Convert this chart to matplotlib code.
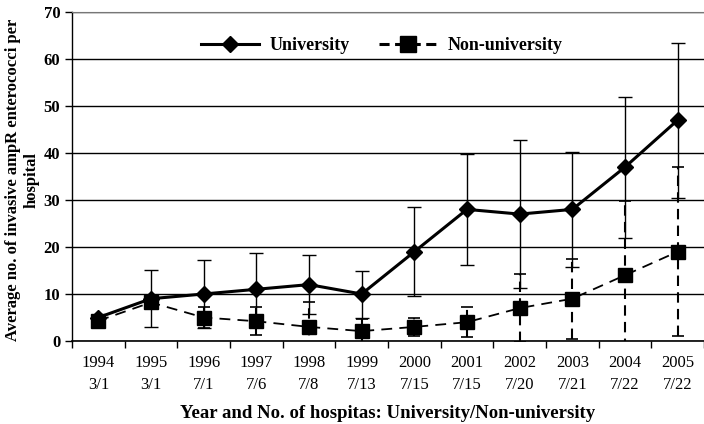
import matplotlib
matplotlib.use("Agg")
import matplotlib.pyplot as plt
from matplotlib.lines import Line2D
import numpy as np

years = ["1994", "1995", "1996", "1997", "1998", "1999", "2000", "2001", "2002", "2003", "2004", "2005"]
hospitals = ["3/1", "3/1", "7/1", "7/6", "7/8", "7/13", "7/15", "7/15", "7/20", "7/21", "7/22", "7/22"]
university = [5, 9, 10, 11, 12, 10, 19, 28, 27, 28, 37, 47]
university_err = [0.5, 6.1, 7.2, 7.8, 6.3, 5.0, 9.5, 11.8, 15.8, 12.2, 15.0, 16.5]
non_university = [4.3, 8.2, 5, 4.2, 3, 2.1, 3, 4, 7, 9, 14, 19]
non_university_err = [0.5, 1.0, 2.2, 3.0, 5.3, 2.5, 2.0, 3.2, 7.2, 8.5, 15.7, 18.0]

plt.rcParams['font.family'] = ['Liberation Serif', 'DejaVu Serif']

fig = plt.figure(figsize=(7.04, 4.24), dpi=100)
ax = fig.add_axes([72/704, 83/424, 1 - 72/704, (341-12)/424])

x = np.arange(len(years))

eb1 = ax.errorbar(x, university, yerr=university_err, color='black', lw=2.2,
                  marker='D', ms=8, elinewidth=1, capsize=5, capthick=1, zorder=4)
eb2 = ax.errorbar(x, non_university, yerr=non_university_err, color='black', lw=1.3,
                  ls=(0, (6, 4)), marker='s', ms=10, elinewidth=1.5, capsize=4, capthick=1.2,
                  zorder=3)
for lc in eb2[2]:
    lc.set_linestyle((0, (5, 3)))

ax.set_ylim(0, 70)
ax.set_yticks(range(0, 71, 10))
ax.set_xlim(-0.5, 11.32)
ax.yaxis.grid(True, color='black', lw=1)
ax.set_axisbelow(True)

ax.set_xticks(x)
ax.set_xticklabels([f"{y}\n{h}" for y, h in zip(years, hospitals)], fontsize=12, linespacing=1.5)
ax.set_xticks(np.arange(-0.5, 12, 1), minor=True)
ax.tick_params(axis='x', which='major', length=0, pad=10)
ax.tick_params(axis='x', which='minor', length=5, direction='out', width=1)
ax.tick_params(axis='y', length=5, width=1, labelsize=12)
for lab in ax.get_yticklabels():
    lab.set_fontweight('bold')

ax.spines['right'].set_visible(False)
ax.spines['top'].set_color('#777777')
ax.spines['left'].set_linewidth(1)
ax.spines['bottom'].set_linewidth(1.2)

ax.set_ylabel("Average no. of invasive ampR enterococci per\nhospital", fontsize=12,
              fontweight='bold', linespacing=1.15)
ax.yaxis.set_label_coords(-0.052, 0.49)
ax.set_xlabel("Year and No. of hospitas: University/Non-university", fontsize=13.5,
              fontweight='bold', labelpad=9)

handles = [
    Line2D([], [], color='black', lw=2.2, marker='D', ms=8),
    Line2D([], [], color='black', lw=2.2, ls=(0, (3.3, 1.8)), marker='s', ms=11),
]
ax.legend(handles, ['University', 'Non-university'], loc='center',
          bbox_to_anchor=(0.49, 0.897), ncol=2, frameon=False,
          prop={'weight': 'bold', 'size': 13}, handlelength=3.2, handletextpad=0.6,
          columnspacing=1.6)

fig.savefig("out.png", dpi=100)
